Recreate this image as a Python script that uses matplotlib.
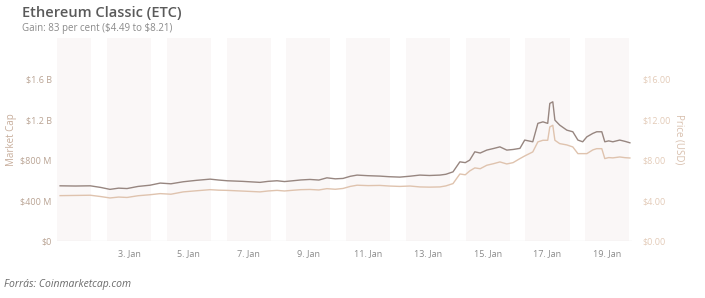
import matplotlib
matplotlib.use("Agg")
import matplotlib.pyplot as plt

plt.rcParams['font.family'] = ['Open Sans', 'DejaVu Sans']

# time in days of January (3.0 = 3. Jan 00:00)
days = [0.69, 1.20, 1.70, 2.05, 2.36, 2.65, 2.93, 3.30, 3.70, 4.04, 4.40, 4.81,
        5.25, 5.71, 6.00, 6.28, 6.80, 7.38, 7.65, 7.95, 8.20, 8.48, 8.75, 9.05,
        9.35, 9.62, 9.90, 10.16, 10.40, 10.63, 11.00, 11.39, 11.70, 12.06, 12.40,
        12.73, 13.05, 13.40, 13.60, 13.84, 14.07, 14.25, 14.40, 14.57, 14.75,
        14.97, 15.20, 15.41, 15.64, 15.85, 16.08, 16.24, 16.51, 16.68, 16.85,
        17.01, 17.08, 17.18, 17.25, 17.41, 17.65, 17.85, 18.02, 18.18, 18.32,
        18.52, 18.65, 18.82, 18.92, 19.05, 19.19, 19.42, 19.60, 19.76]

# market cap in millions USD
market_cap = [546, 544, 546, 530, 511, 523, 519, 540, 552, 573, 566, 586,
              600, 612, 603, 596, 590, 580, 590, 596, 588, 596, 604, 609,
              603, 625, 615, 619, 640, 652, 646, 642, 636, 632, 641,
              652, 648, 652, 660, 684, 783, 775, 800, 882, 870,
              899, 915, 931, 899, 905, 916, 998, 981, 1163, 1178,
              1163, 1360, 1376, 1195, 1146, 1096, 1080, 998, 981, 1030,
              1064, 1080, 1080, 981, 990, 981, 998, 985, 971]

# price in USD
price = [4.49, 4.51, 4.53, 4.40, 4.26, 4.35, 4.31, 4.48, 4.58, 4.69, 4.63, 4.86,
         4.97, 5.08, 5.03, 5.01, 4.94, 4.86, 4.95, 5.01, 4.95, 5.02, 5.08, 5.10,
         5.05, 5.18, 5.12, 5.20, 5.40, 5.52, 5.48, 5.50, 5.44, 5.40, 5.44,
         5.35, 5.33, 5.35, 5.45, 5.68, 6.63, 6.55, 6.93, 7.23, 7.15,
         7.49, 7.65, 7.82, 7.62, 7.75, 8.15, 8.41, 8.81, 9.80, 9.96,
         9.96, 11.28, 11.44, 9.96, 9.63, 9.50, 9.30, 8.64, 8.64, 8.64,
         9.01, 9.13, 9.13, 8.15, 8.25, 8.22, 8.31, 8.24, 8.21]

tick_days = [3, 5, 7, 9, 11, 13, 15, 17, 19]
tick_labels = ["%d. Jan" % d for d in tick_days]
band_days = [1, 3, 5, 7, 9, 11, 13, 15, 17, 19]

cap_ticks = [0, 400, 800, 1200, 1600]
cap_labels = ["$0", "$400 M", "$800 M", "$1.2 B", "$1.6 B"]
price_ticks = [0, 4, 8, 12, 16]
price_labels = ["$0.00", "$4.00", "$8.00", "$12.00", "$16.00"]

fig = plt.figure(figsize=(7.05, 2.98), dpi=100)
ax = fig.add_axes([0.081, 0.191, 0.815, 0.681])

for d in band_days:
    ax.axvspan(d - 0.74, d + 0.74, color='#faf7f7', lw=0, zorder=0)

ax.plot(days, market_cap, color='#978680', lw=1.0, zorder=3)
ax.set_xlim(0.59, 19.82)
ax.set_ylim(0, 2005)
ax.set_xticks(tick_days)
ax.set_xticklabels(tick_labels, color='#8a8a8a', fontsize=6.5)
ax.set_yticks(cap_ticks)
ax.set_yticklabels(cap_labels, color='#b9a393', fontsize=6.5)
ax.tick_params(length=0, pad=4)
ax.tick_params(axis='x', pad=6)
ax.set_ylabel("Market Cap", color='#c7ad9b', fontsize=7)
ax.yaxis.set_label_coords(-0.07, 0.5)
for s in ax.spines.values():
    s.set_visible(False)
ax.axhline(0, color='#ececec', lw=1, zorder=2)

ax2 = ax.twinx()
ax2.plot(days, price, color='#dfc3ae', lw=1.0, zorder=2)
ax2.set_ylim(0, 20.05)
ax2.set_yticks(price_ticks)
ax2.set_yticklabels(price_labels, color='#e3cbb8', fontsize=6.5)
ax2.tick_params(length=0, pad=8)
ax2.set_ylabel("Price (USD)", color='#d8bfad', fontsize=7, rotation=270, va='center')
ax2.yaxis.set_label_coords(1.083, 0.5)
for s in ax2.spines.values():
    s.set_visible(False)

fig.text(0.031, 0.955, "Ethereum Classic (ETC)", fontsize=10.5, fontweight='semibold',
         color='#5a5a5a', va='center')
fig.text(0.031, 0.905, r"Gain: 83 per cent (\$4.49 to \$8.21)", fontsize=7,
         color='#8a8a8a', va='center')
fig.text(0.006, 0.045, "Forrás: Coinmarketcap.com", fontsize=7.5, style='italic',
         color='#6a6a6a', va='center')

fig.savefig("out.png", dpi=100)
